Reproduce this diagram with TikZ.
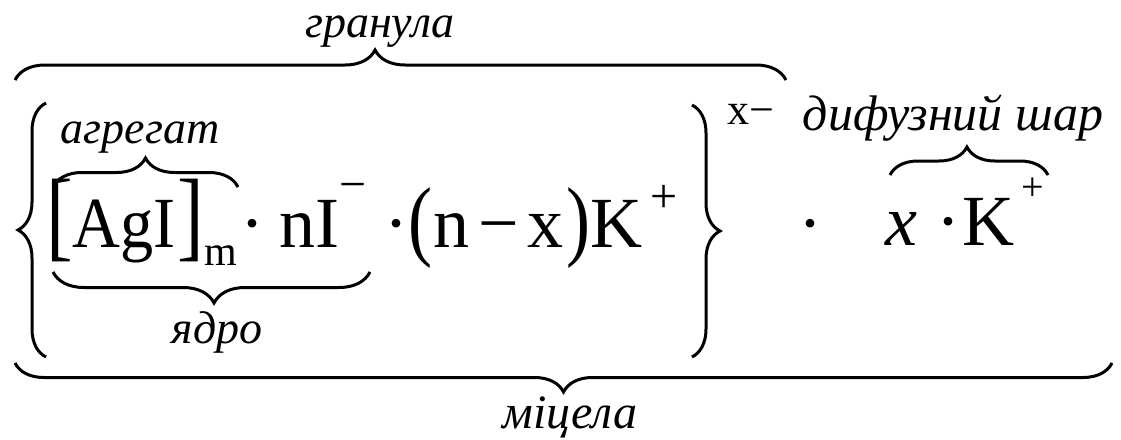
\documentclass[tikz,border=0pt]{standalone}
\usepackage{fontspec}
\setmainfont{Liberation Serif}
\usetikzlibrary{decorations.pathreplacing}
\begin{document}
\begin{tikzpicture}[x=1pt,y=-1pt,
  brc/.style={decorate, decoration={brace, amplitude=#1}, line width=3pt},
  mf/.style={font=\fontsize{72}{72}\selectfont, inner sep=0, anchor=base west},
  mfi/.style={font=\fontsize{72}{72}\selectfont\itshape, inner sep=0, anchor=base west},
  bk/.style={font=\fontsize{80}{80}\selectfont, inner sep=0, anchor=base west},
  sbs/.style={font=\fontsize{42}{42}\selectfont, inner sep=0, anchor=base west},
  sps/.style={font=\fontsize{48}{48}\selectfont, inner sep=0, anchor=base west},
  lab/.style={font=\fontsize{46}{46}\selectfont\itshape, inner sep=0, anchor=base}]
\useasboundingbox (0,0) rectangle (1121,439);
% labels
\node[lab] (granula) at (380,37) {гранула};
\node[lab] (agregat) at (140,143) {агрегат};
\node[lab] (yadro) at (217,343) {ядро};
\node[lab, font=\fontsize{50}{50}\selectfont\itshape] (difuz) at (953,130) {дифузний шар};
\node[lab, font=\fontsize{48}{48}\selectfont\itshape] (micela) at (570,428) {міцела};
% main formula
\node[bk] (lb) at (46,248) {\scalebox{1}[1.25]{[}};
\node[mf] (agi) at (72.6,247) {\scalebox{0.92}[1]{AgI}};
\node[bk] (rb) at (177.5,248) {\scalebox{1}[1.25]{]}};
\node[sbs] (m) at (204,265) {m};
\node[mf] (dot1) at (240,247) {·};
\node[mf] (nI) at (279,247) {nI};
\node[sps] (minus1) at (339,200) {−};
\node[mf] (dot2) at (384,247) {·};
\node[mf] (lp) at (408,249) {\scalebox{1}[1.24]{(}};
\node[mf] (n2) at (433,247) {n};
\node[mf] (minus2) at (478,247) {−};
\node[mf] (x2) at (527,247) {x};
\node[mf] (rp) at (566,249) {\scalebox{1}[1.24]{)}};
\node[mf] (K1) at (590,247) {K};
\node[sps] (plus1) at (650,212) {+};
\node[font=\fontsize{44}{44}\selectfont, inner sep=0, anchor=base west] (xminus) at (727,124) {x−};
\node[mf] (dot3) at (798,247) {·};
\node[mfi] (x3) at (885,245) {x};
\node[mf] (dot4) at (936,245) {·};
\node[mf] (K2) at (962,245) {K};
\node[font=\fontsize{40}{40}\selectfont, inner sep=0, anchor=base west] (plus2) at (1021,200) {+};
% braces
\draw[brc=30pt, decoration={aspect=0.467}] (15,80) -- (786,80);
\draw[brc=29pt, decoration={aspect=0.5}] (1112,363) -- (15,363);
\draw[brc=29pt, decoration={aspect=0.5}] (53,187) -- (238,187);
\draw[brc=31pt, decoration={aspect=0.492}] (370,272) -- (53,272);
\draw[brc=28pt, decoration={aspect=0.487}] (890,175) -- (1048,175);
\draw[brc=28pt, decoration={aspect=0.5}] (46,357) -- (46,103);
\draw[brc=28pt, decoration={aspect=0.5}] (692,105) -- (692,357);
\end{tikzpicture}
\end{document}
